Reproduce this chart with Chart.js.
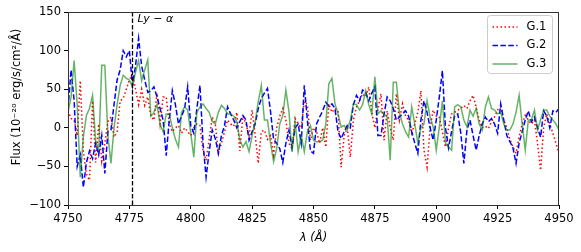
<!DOCTYPE html>
<html>
<head>
<meta charset="utf-8">
<script src="https://cdn.jsdelivr.net/npm/chart.js@4.4.1/dist/chart.umd.min.js"></script>
<style>
html,body{margin:0;padding:0;background:#fff;}
canvas{display:block;}
</style>
</head>
<body>
<canvas id="c" width="581" height="252"></canvas>
<script>
// ---- data ----
const lambdaStart = 4750;
const lambdaStep = 1.25;
const seriesNames = ["G.1", "G.2", "G.3"];
const g1 = [22,12,10,-10,61,-30,-60,-68,35,-45,5,-43,-20,8,14,-12,-5,35,38,50,
62,70,50,30,50,29,40,15,10,45,5,40,40,5,-5,0,3,-7,0,-5,
-10,0,5,3,-30,-42,-15,14,5,-33,-20,-5,10,5,2,20,-30,15,5,-10,
23,-10,-46,-5,-3,-15,-10,-35,0,15,25,10,-20,-27,12,5,0,34,30,-16,
0,-5,-20,0,-25,31,20,25,22,-51,-10,0,-38,10,27,35,44,40,53,20,
0,25,44,-16,22,0,-16,44,10,31,15,10,-7,5,20,48,-29,-51,0,23,
15,14,-5,-25,0,18,20,23,25,29,25,35,42,27,10,0,2,-1,8,14,
23,27,10,0,-15,-25,-33,-12,5,16,10,5,10,-20,-55,0,18,5,-7,-20,-33];
const g2 = [25,75,35,-50,-35,-77,-45,-30,-40,-20,-35,-10,-59,-5,-3,30,62,75,100,92,
100,55,80,116,80,62,46,48,53,40,25,10,-36,10,48,30,5,15,25,53,
3,-7,25,55,-20,-64,-31,-3,-14,-33,-10,3,27,18,10,0,8,16,10,-16,
-5,5,25,38,45,51,21,-15,-20,-27,-45,-20,-3,-26,0,5,-20,55,10,-30,
-33,5,14,22,33,28,31,25,-5,-14,-5,3,0,30,42,35,49,46,35,45,
53,-10,-10,18,40,35,25,10,14,18,22,15,-5,-20,-33,10,35,20,0,-16,
10,40,74,0,-26,-5,16,18,-7,-46,-3,10,-10,-29,-10,5,14,8,12,5,
-7,31,10,-10,-18,-26,-46,-20,-5,10,22,8,14,0,-12,22,15,0,22,20,25];
const g3 = [20,40,87,30,-64,-12,16,25,42,-16,-29,81,81,-10,-46,0,30,55,68,64,
62,53,72,87,61,75,88,15,20,30,5,-5,18,18,0,-15,-25,20,27,23,
-7,-38,20,27,31,25,20,8,5,20,29,25,18,18,15,8,-16,-25,-18,-31,
-10,8,34,55,10,10,-20,-44,-27,5,16,49,21,-31,8,-31,-10,-31,-5,3,
-16,-18,-18,-16,5,57,64,31,18,1,3,-3,10,31,30,23,30,48,30,18,
66,18,22,18,14,-42,59,59,20,5,-5,-12,27,5,-20,0,5,35,14,1,
-29,1,35,-20,-25,-29,27,30,27,10,1,23,15,25,5,-3,27,40,25,23,
18,20,5,-3,-3,5,20,42,5,-29,10,10,23,-3,10,23,23,15,10,5,-3];
const lyaLambda = 4776;
const lyaLabel = "Ly \u2212 \u03b1";
const xTicksStep = 25, xMin = 4750, xMax = 4950;
const yTicksStep = 50, yMin = -100, yMax = 150;
const xTitle = "\u03bb (\u00c5)";
const yTitle = "Flux (10\u207b\u00b2\u2070 erg/s/cm\u00b2/\u00c5)";

// ---- build ----
const toPts = arr => arr.map((v, i) => ({x: lambdaStart + lambdaStep * i, y: v}));
const FONT = "'DejaVu Sans', sans-serif";
const tickFont = {family: FONT, size: 11.5};

const styles = [
  {color: '#ff0000', dash: [1.5, 2.5], order: 2},
  {color: '#0000ff', dash: [5.5, 2.4], order: 1},
  {color: 'rgba(0,128,0,0.6)', dash: [], order: 0}
];
const values = [g1, g2, g3];
const datasets = values.map((arr, k) => ({
  label: seriesNames[k],
  data: toPts(arr),
  borderColor: styles[k].color,
  borderDash: styles[k].dash,
  borderWidth: 1.5,
  pointRadius: 0,
  tension: 0,
  fill: false,
  order: styles[k].order
}));

const decor = {
  id: 'decor',
  afterDatasetsDraw(chart) {
    const {ctx, chartArea: a, scales} = chart;
    ctx.save();
    // Ly-alpha line
    const lx = Math.round(scales.x.getPixelForValue(lyaLambda)) + 0.5;
    ctx.strokeStyle = '#000';
    ctx.lineWidth = 1.3;
    ctx.setLineDash([4.5, 2]);
    ctx.beginPath();
    ctx.moveTo(lx, a.top);
    ctx.lineTo(lx, a.bottom);
    ctx.stroke();
    ctx.setLineDash([]);
    ctx.fillStyle = '#000';
    ctx.font = "italic 11px " + FONT;
    ctx.textBaseline = 'middle';
    ctx.textAlign = 'left';
    ctx.fillText(lyaLabel, lx + 5, a.top + 7);
    // frame
    ctx.strokeStyle = '#333';
    ctx.lineWidth = 1;
    ctx.strokeRect(Math.round(a.left) + 0.5, Math.round(a.top) + 0.5,
                   Math.round(a.right - a.left) - 1, Math.round(a.bottom - a.top));
    // legend
    const bx = 487.5, by = 15.5, bw = 65, bh = 58;
    ctx.beginPath();
    if (ctx.roundRect) ctx.roundRect(bx, by, bw, bh, 3); else ctx.rect(bx, by, bw, bh);
    ctx.fillStyle = 'rgba(255,255,255,0.85)';
    ctx.fill();
    ctx.strokeStyle = '#cccccc';
    ctx.lineWidth = 1;
    ctx.stroke();
    ctx.font = "11.5px " + FONT;
    ctx.textBaseline = 'middle';
    chart.data.datasets.forEach((ds, k) => {
      const yy = by + 11.5 + k * 18.5;
      ctx.strokeStyle = ds.borderColor;
      ctx.lineWidth = ds.borderWidth;
      ctx.setLineDash(ds.borderDash);
      ctx.beginPath();
      ctx.moveTo(bx + 5, yy);
      ctx.lineTo(bx + 30, yy);
      ctx.stroke();
      ctx.setLineDash([]);
      ctx.fillStyle = '#000';
      ctx.fillText(ds.label, bx + 39, yy);
    });
    // axis titles
    ctx.fillStyle = '#000';
    ctx.textAlign = 'center';
    ctx.font = "italic 11.5px " + FONT;
    ctx.fillText(xTitle, (a.left + a.right) / 2, 238);
    ctx.font = "11.5px " + FONT;
    ctx.translate(17, 97);
    ctx.rotate(-Math.PI / 2);
    ctx.fillText(yTitle, 0, 0);
    ctx.restore();
  }
};

new Chart(document.getElementById('c'), {
  type: 'line',
  data: {datasets},
  options: {
    responsive: false,
    animation: false,
    events: [],
    layout: {padding: {left: 0, right: 22, top: 12, bottom: 0}},
    plugins: {legend: {display: false}, tooltip: {enabled: false}},
    scales: {
      x: {
        type: 'linear', min: xMin, max: xMax,
        ticks: {stepSize: xTicksStep, callback: v => String(v), font: tickFont, color: '#000', padding: 3, maxRotation: 0, autoSkip: false},
        grid: {drawOnChartArea: false, drawTicks: true, tickLength: 4, color: '#000', tickColor: '#000'},
        border: {display: false},
        afterFit: s => { s.height = 47; }
      },
      y: {
        type: 'linear', min: yMin, max: yMax,
        ticks: {stepSize: yTicksStep, callback: v => String(v).replace('-', '\u2212'), font: tickFont, color: '#000', padding: 3},
        grid: {drawOnChartArea: false, drawTicks: true, tickLength: 4, color: '#000', tickColor: '#000'},
        border: {display: false},
        afterFit: s => { s.width = 68; }
      }
    }
  },
  plugins: [decor]
});
</script>
</body>
</html>
